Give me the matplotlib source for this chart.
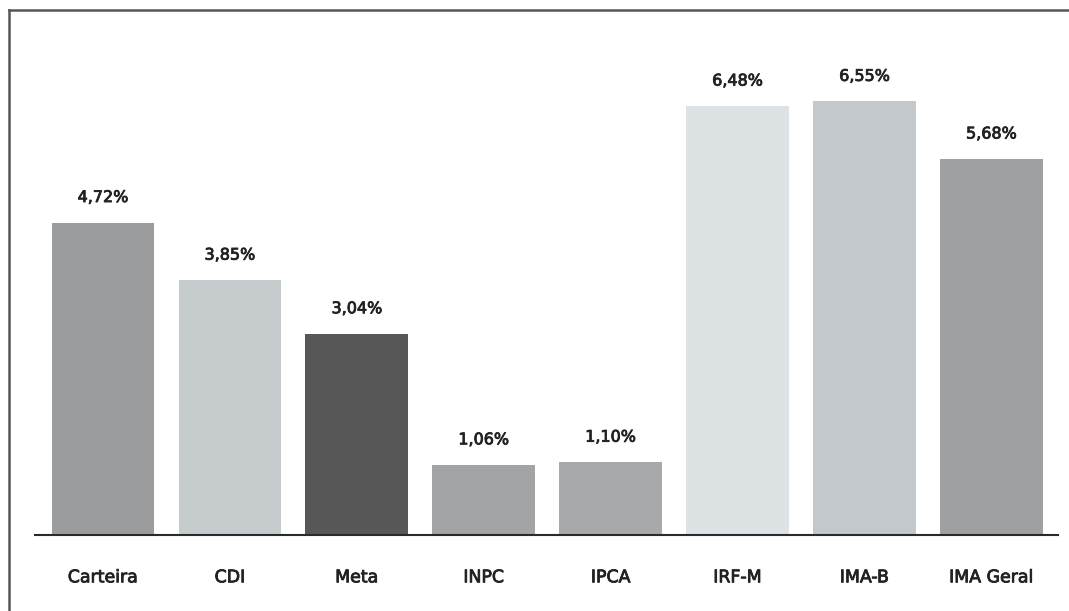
import matplotlib.pyplot as plt
import matplotlib.patheffects as pe
from matplotlib.lines import Line2D

plt.rcParams['font.family'] = ['DejaVu Sans']

categories = ['Carteira', 'CDI', 'Meta', 'INPC', 'IPCA', 'IRF-M', 'IMA-B', 'IMA Geral']
values = [4.72, 3.85, 3.04, 1.06, 1.10, 6.48, 6.55, 5.68]
colors = ['#9a9c9d', '#c6cbcd', '#575757', '#a2a4a5', '#a7a9aa', '#dde2e5', '#c2c8cb', '#9ea0a1']

fig = plt.figure(figsize=(10.69, 6.11), dpi=100)
ax = fig.add_axes([0.0327, 0.1244, 0.957, 0.8126])

x = range(len(categories))
bars = ax.bar(x, values, width=0.81, color=colors, zorder=2)

# slightly heavier strokes, like the printed labels
thick = [pe.withStroke(linewidth=0.6, foreground='#222222')]

# value labels above the bars
for b, v in zip(bars, values):
    label = f'{v:.2f}%'.replace('.', ',')
    ax.annotate(label, (b.get_x() + b.get_width() / 2, v), xytext=(0, 18),
                textcoords='offset points', ha='center', va='center',
                fontsize=11.5, color='#222222', path_effects=thick)

ax.set_xlim(-0.536, 7.524)
ax.set_ylim(0, 7.5)
ax.set_xticks(list(x))
ax.set_xticklabels(categories, fontsize=12.5, color='#222222', path_effects=thick)
ax.tick_params(axis='x', length=0, pad=24)
ax.set_yticks([])
for s in ['top', 'right', 'left']:
    ax.spines[s].set_visible(False)
ax.spines['bottom'].set_color('#2a2a2a')
ax.spines['bottom'].set_linewidth(1.5)

# outer frame (left and top edge of the box)
W, H = 1069, 611
fig.add_artist(Line2D([8.5 / W, 8.5 / W], [0, 1 - 10 / H], transform=fig.transFigure,
                      color='#555555', linewidth=1.8))
fig.add_artist(Line2D([8.5 / W, 1], [1 - 10 / H, 1 - 10 / H], transform=fig.transFigure,
                      color='#555555', linewidth=1.8))

fig.savefig('out.png', dpi=100, facecolor='white')
